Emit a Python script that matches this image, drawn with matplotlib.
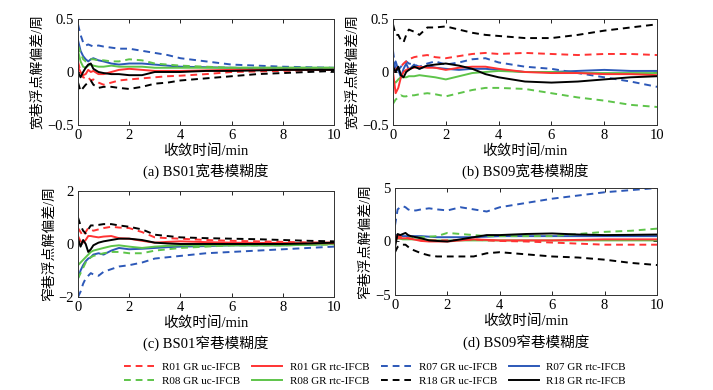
import numpy as np
import matplotlib
matplotlib.use("Agg")
import matplotlib.pyplot as plt
from matplotlib.ticker import FuncFormatter

plt.rcParams['font.family'] = ['Liberation Serif', 'Noto Sans CJK SC']
plt.rcParams['axes.unicode_minus'] = True

# 时间采样点 (min)
t = [0, 0.1, 0.2, 0.3, 0.4, 0.5, 0.6, 0.8, 1.0, 1.3, 1.6, 2.0, 2.5, 3.0, 3.5, 4.0, 5.0, 6.0, 7.0, 8.0, 9.0, 10.0]

labels = ['R01 GR uc-IFCB', 'R01 GR rtc-IFCB', 'R07 GR uc-IFCB', 'R07 GR rtc-IFCB',
          'R08 GR uc-IFCB', 'R08 GR rtc-IFCB', 'R18 GR uc-IFCB', 'R18 GR rtc-IFCB']

# (a) BS01 宽巷
a_r01_uc = [0.10, 0.0, -0.05, -0.06, -0.05, -0.08, -0.07, -0.10, -0.12, -0.10, -0.08, -0.07, -0.06, -0.05, -0.04, -0.035, -0.02, 0.0, 0.005, 0.01, 0.015, 0.02]
a_r01_rtc = [0.05, 0.0, -0.03, -0.02, 0.02, 0.0, 0.01, -0.02, -0.02, 0.0, 0.02, 0.03, 0.02, 0.01, 0.01, 0.01, 0.015, 0.02, 0.02, 0.02, 0.02, 0.02]
a_r07_uc = [0.45, 0.35, 0.28, 0.25, 0.26, 0.25, 0.24, 0.25, 0.24, 0.23, 0.22, 0.22, 0.20, 0.18, 0.16, 0.13, 0.10, 0.07, 0.06, 0.05, 0.045, 0.04]
a_r07_rtc = [0.30, 0.20, 0.15, 0.12, 0.10, 0.12, 0.13, 0.11, 0.10, 0.08, 0.07, 0.08, 0.08, 0.07, 0.06, 0.05, 0.045, 0.04, 0.035, 0.035, 0.03, 0.03]
a_r08_uc = [0.25, 0.18, 0.12, 0.10, 0.11, 0.12, 0.12, 0.11, 0.11, 0.10, 0.10, 0.12, 0.11, 0.08, 0.07, 0.06, 0.05, 0.04, 0.04, 0.04, 0.04, 0.04]
a_r08_rtc = [0.20, 0.10, 0.05, 0.04, 0.06, 0.07, 0.06, 0.05, 0.05, 0.06, 0.05, 0.05, 0.05, 0.04, 0.04, 0.04, 0.04, 0.04, 0.04, 0.04, 0.04, 0.04]
a_r18_uc = [-0.10, -0.18, -0.15, -0.12, -0.10, -0.08, -0.12, -0.15, -0.14, -0.14, -0.15, -0.16, -0.14, -0.11, -0.10, -0.08, -0.06, -0.04, -0.02, -0.01, 0.0, 0.01]
a_r18_rtc = [0.00, -0.05, 0.0, 0.04, 0.07, 0.08, 0.03, 0.0, -0.01, -0.02, -0.02, -0.03, -0.03, 0.0, 0.0, 0.0, 0.01, 0.01, 0.015, 0.02, 0.02, 0.02]

# (b) BS09 宽巷
b_r01_uc = [0.0, 0.02, 0.05, 0.05, 0.08, 0.10, 0.12, 0.14, 0.15, 0.16, 0.14, 0.13, 0.15, 0.17, 0.18, 0.17, 0.18, 0.17, 0.16, 0.17, 0.17, 0.16]
b_r01_rtc = [0.0, -0.2, -0.15, -0.05, 0.0, 0.02, 0.03, 0.04, 0.05, 0.04, 0.04, 0.02, 0.04, 0.05, 0.05, 0.03, 0.0, -0.01, -0.01, -0.02, -0.02, -0.03]
b_r07_uc = [0.2, 0.0, 0.02, 0.05, 0.08, 0.10, 0.08, 0.07, 0.05, 0.08, 0.10, 0.07, 0.09, 0.12, 0.13, 0.09, 0.05, 0.03, -0.01, -0.05, -0.09, -0.14]
b_r07_rtc = [0.05, 0.10, 0.02, -0.05, 0.03, 0.08, 0.02, 0.07, 0.03, 0.06, 0.04, 0.03, 0.02, 0.03, 0.03, 0.02, 0.0, 0.0, 0.01, 0.02, 0.01, 0.01]
b_r08_uc = [-0.30, -0.26, -0.24, -0.22, -0.23, -0.23, -0.22, -0.22, -0.21, -0.20, -0.21, -0.23, -0.20, -0.17, -0.15, -0.15, -0.16, -0.20, -0.24, -0.27, -0.31, -0.33]
b_r08_rtc = [-0.08, -0.10, -0.07, -0.05, -0.05, -0.05, -0.04, -0.04, -0.03, -0.04, -0.05, -0.07, -0.04, -0.01, 0.0, 0.01, 0.0, 0.0, -0.01, -0.01, -0.01, -0.01]
b_r18_uc = [0.45, 0.35, 0.35, 0.30, 0.28, 0.35, 0.40, 0.38, 0.35, 0.42, 0.42, 0.43, 0.40, 0.37, 0.35, 0.34, 0.32, 0.32, 0.35, 0.39, 0.42, 0.45]
b_r18_rtc = [0.05, 0.0, 0.05, -0.03, -0.05, 0.0, 0.02, 0.05, 0.03, 0.06, 0.07, 0.08, 0.06, 0.03, -0.02, -0.05, -0.09, -0.10, -0.09, -0.07, -0.05, -0.04]

# (c) BS01 窄巷
c_r01_uc = [0.6, 0.45, 0.3, 0.45, 0.6, 0.55, 0.5, 0.55, 0.6, 0.65, 0.62, 0.6, 0.45, 0.25, 0.22, 0.2, 0.15, 0.12, 0.1, 0.08, 0.06, 0.05]
c_r01_rtc = [0.3, 0.1, 0.05, 0.15, 0.3, 0.3, 0.28, 0.25, 0.28, 0.3, 0.22, 0.2, 0.12, 0.05, 0.08, 0.1, 0.07, 0.05, 0.04, 0.04, 0.03, 0.03]
c_r07_uc = [-2.0, -1.8, -1.5, -1.3, -1.2, -1.1, -1.15, -1.2, -1.05, -0.95, -0.85, -0.8, -0.7, -0.55, -0.5, -0.45, -0.35, -0.3, -0.25, -0.2, -0.15, -0.1]
c_r07_rtc = [-1.3, -1.0, -0.8, -0.65, -0.55, -0.5, -0.4, -0.35, -0.4, -0.25, -0.15, -0.2, -0.18, -0.15, -0.12, -0.1, -0.08, -0.05, -0.05, -0.05, -0.03, 0.0]
c_r08_uc = [-1.3, -1.1, -0.9, -0.7, -0.6, -0.5, -0.45, -0.4, -0.35, -0.3, -0.3, -0.35, -0.35, -0.25, -0.2, -0.15, -0.1, -0.05, -0.05, -0.05, -0.03, -0.02]
c_r08_rtc = [-0.8, -0.7, -0.6, -0.5, -0.4, -0.3, -0.25, -0.2, -0.15, -0.08, -0.05, -0.1, -0.15, -0.1, -0.07, -0.05, -0.05, -0.05, -0.05, -0.05, -0.03, 0.0]
c_r18_uc = [1.0, 0.7, 0.5, 0.4, 0.55, 0.7, 0.7, 0.72, 0.75, 0.75, 0.7, 0.65, 0.55, 0.35, 0.3, 0.25, 0.22, 0.2, 0.18, 0.15, 0.12, 0.1]
c_r18_rtc = [0.2, -0.1, 0.15, 0.0, -0.3, -0.2, -0.05, 0.05, 0.1, 0.15, 0.2, 0.2, 0.15, 0.05, 0.02, 0.0, 0.0, 0.0, 0.0, 0.0, 0.02, 0.05]

# (d) BS09 窄巷
d_r01_uc = [0.5, 0.5, 0.45, 0.4, 0.35, 0.3, 0.25, 0.2, 0.1, 0.1, 0.1, 0.1, 0.15, 0.2, 0.1, 0.05, 0.0, -0.1, -0.2, -0.3, -0.3, -0.3]
d_r01_rtc = [0.3, 0.3, 0.3, 0.3, 0.3, 0.3, 0.25, 0.15, 0.05, 0.0, 0.0, 0.0, 0.1, 0.2, 0.15, 0.1, 0.1, 0.1, 0.15, 0.2, 0.2, 0.2]
d_r07_uc = [1.5, 3.0, 3.2, 3.3, 3.2, 3.0, 2.9, 2.9, 3.0, 3.1, 3.0, 2.9, 3.2, 3.0, 2.8, 3.2, 3.6, 4.0, 4.3, 4.6, 4.8, 5.0]
d_r07_rtc = [0.6, 0.6, 0.55, 0.5, 0.5, 0.5, 0.5, 0.5, 0.5, 0.45, 0.4, 0.4, 0.4, 0.4, 0.45, 0.5, 0.5, 0.5, 0.5, 0.5, 0.5, 0.5]
d_r08_uc = [0.5, 0.4, 0.35, 0.3, 0.3, 0.3, 0.3, 0.35, 0.4, 0.45, 0.5, 0.8, 0.7, 0.6, 0.5, 0.5, 0.5, 0.5, 0.7, 0.9, 1.0, 1.2]
d_r08_rtc = [0.3, 0.3, 0.25, 0.2, 0.2, 0.2, 0.2, 0.2, 0.2, 0.15, 0.1, 0.1, 0.1, 0.1, 0.1, 0.1, 0.1, 0.1, 0.1, 0.1, 0.1, 0.1]
d_r18_uc = [-1.0, -0.5, -0.4, -0.3, -0.3, -0.5, -0.7, -0.9, -1.1, -1.3, -1.4, -1.4, -1.4, -1.4, -1.1, -1.0, -1.2, -1.4, -1.5, -1.7, -2.0, -2.2]
d_r18_rtc = [-0.5, 0.7, 0.6, 0.7, 0.8, 0.6, 0.5, 0.4, 0.3, 0.1, 0.05, 0.0, 0.2, 0.4, 0.6, 0.6, 0.7, 0.75, 0.65, 0.6, 0.62, 0.65]

colors = ['#ff3333', '#ff3333', '#2c58b8', '#2c58b8', '#5ec44a', '#5ec44a', 'black', 'black']
styles = ['--', '-', '--', '-', '--', '-', '--', '-']

panels = [
    ([a_r01_uc, a_r01_rtc, a_r07_uc, a_r07_rtc, a_r08_uc, a_r08_rtc, a_r18_uc, a_r18_rtc],
     0.5, '宽巷浮点解偏差/周', '(a) BS01宽巷模糊度', [0.1094, 0.6795, 0.359, 0.2718]),
    ([b_r01_uc, b_r01_rtc, b_r07_uc, b_r07_rtc, b_r08_uc, b_r08_rtc, b_r18_uc, b_r18_rtc],
     0.5, '宽巷浮点解偏差/周', '(b) BS09宽巷模糊度', [0.5512, 0.6795, 0.3703, 0.2718]),
    ([c_r01_uc, c_r01_rtc, c_r07_uc, c_r07_rtc, c_r08_uc, c_r08_rtc, c_r18_uc, c_r18_rtc],
     2, '窄巷浮点解偏差/周', '(c) BS01窄巷模糊度', [0.1094, 0.2385, 0.359, 0.2718]),
    ([d_r01_uc, d_r01_rtc, d_r07_uc, d_r07_rtc, d_r08_uc, d_r08_rtc, d_r18_uc, d_r18_rtc],
     5, '窄巷浮点解偏差/周', '(d) BS09窄巷模糊度', [0.554, 0.2436, 0.3675, 0.2744]),
]

fig = plt.figure(figsize=(7.13, 3.90), dpi=100)
draw_order = [2, 3, 4, 5, 0, 1, 6, 7]
handles = {}
for series, lim, ylab, cap, pos in panels:
    ax = fig.add_axes(pos)
    for i in draw_order:
        if styles[i] == '--':
            ln, = ax.plot(t, series[i], color=colors[i], lw=1.4, dashes=(3.5, 2.5), label=labels[i])
        else:
            ln, = ax.plot(t, series[i], color=colors[i], lw=1.4, label=labels[i])
        handles[i] = ln
    ax.set_xlim(0, 10)
    ax.set_ylim(-lim, lim)
    ax.set_xticks([0, 2, 4, 6, 8, 10])
    ax.set_yticks([-lim, 0, lim])
    ax.yaxis.set_major_formatter(FuncFormatter(lambda v, p: ('%g' % v).replace('-', '\u2212')))
    ax.tick_params(direction='in', top=True, right=True, labelsize=10.5, length=3, width=0.6, pad=3)
    for s in ax.spines.values():
        s.set_linewidth(0.7)
        s.set_color('#333333')
    ax.set_xlabel('收敛时间/min', fontsize=10.5, labelpad=1)
    ax.set_ylabel(ylab, fontsize=10, labelpad=2)
    ax.text(0.5, -0.44, cap, transform=ax.transAxes, ha='center', va='center', fontsize=10.5)

order = [0, 4, 1, 5, 2, 6, 3, 7]
fig.legend([handles[i] for i in order], [labels[i] for i in order], ncol=4,
           loc='center', bbox_to_anchor=(0.526, 0.041), frameon=False, fontsize=8,
           handlelength=2.7, handletextpad=0.7, columnspacing=1.05, labelspacing=0.45)

fig.savefig('out.png', dpi=100)
